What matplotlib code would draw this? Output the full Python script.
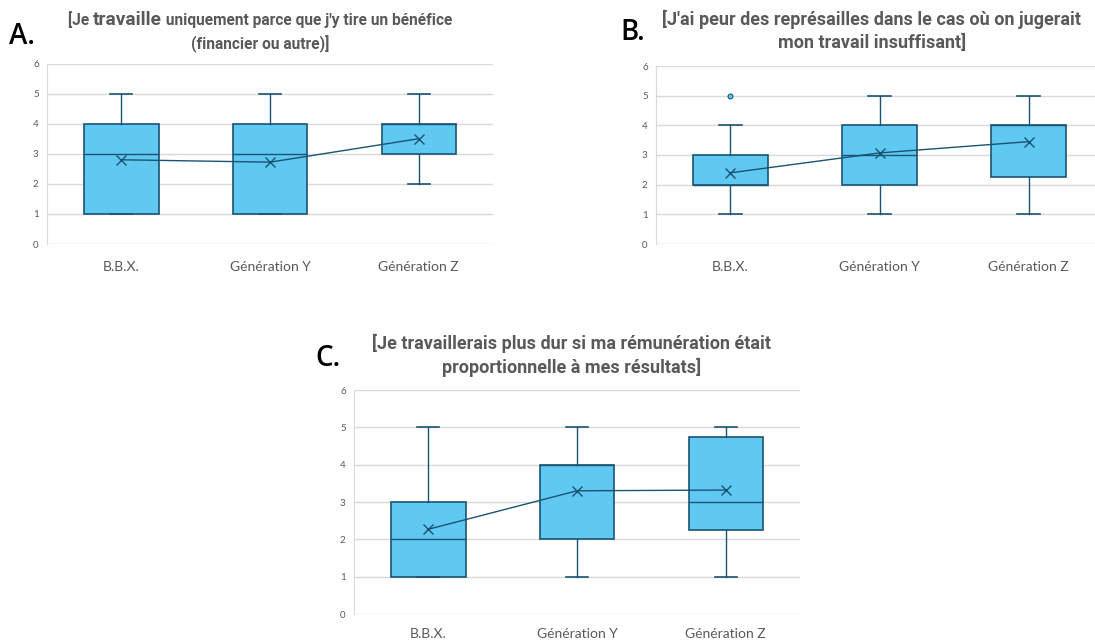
import matplotlib
matplotlib.use("Agg")
import matplotlib.pyplot as plt
from matplotlib.offsetbox import TextArea, HPacker, AnnotationBbox

# Generations on the x axis
groups = ["B.B.X.", "Génération Y", "Génération Z"]

# A. "Je travaille uniquement parce que j'y tire un bénéfice"
a_low = [1, 1, 2]
a_q1 = [1, 1, 3]
a_med = [3, 3, 4]
a_q3 = [4, 4, 4]
a_high = [5, 5, 5]
a_mean = [2.8, 2.72, 3.5]
a_out = [[], [], []]

# B. "J'ai peur des représailles ..."
b_low = [1, 1, 1]
b_q1 = [2, 2, 2.25]
b_med = [2, 3, 4]
b_q3 = [3, 4, 4]
b_high = [4, 5, 5]
b_mean = [2.4, 3.07, 3.45]
b_out = [[5], [], []]

# C. "Je travaillerais plus dur si ma rémunération ..."
c_low = [1, 1, 1]
c_q1 = [1, 2, 2.25]
c_med = [2, 4, 3]
c_q3 = [3, 4, 4.75]
c_high = [5, 5, 5]
c_mean = [2.27, 3.3, 3.32]
c_out = [[], [], []]

fill = "#5FC9F1"
edge = "#1B5373"
grey_txt = "#595959"
grid_col = "#D9D9D9"
title_font = ["Liberation Sans Narrow", "Roboto", "DejaVu Sans"]
tick_font = ["Lato", "DejaVu Sans"]

fig = plt.figure(figsize=(10.95, 6.41), dpi=100)
W, H = 1095, 641


def add_axes_px(left, right, top, bottom):
    return fig.add_axes([left / W, 1 - bottom / H, (right - left) / W, (bottom - top) / H])


def draw_box(ax, low, q1, med, q3, high, mean, out, xmax=3.5, xpad=12):
    stats = []
    for i in range(len(groups)):
        stats.append(dict(whislo=low[i], q1=q1[i], med=med[i], q3=q3[i],
                          whishi=high[i], mean=mean[i], fliers=out[i], label=groups[i]))
    pos = [1, 2, 3]
    ax.bxp(stats, positions=pos, widths=0.5, patch_artist=True, showmeans=False,
           boxprops=dict(facecolor=fill, edgecolor=edge, linewidth=1.2),
           medianprops=dict(color=edge, linewidth=1.0),
           whiskerprops=dict(color=edge, linewidth=1.0),
           capprops=dict(color=edge, linewidth=1.2),
           capwidths=0.15,
           flierprops=dict(marker="o", markersize=3.5, markerfacecolor=fill,
                           markeredgecolor=edge, markeredgewidth=0.8))
    ax.plot(pos, mean, color=edge, linewidth=1.0, marker="x", markersize=7,
            markeredgewidth=1.0, zorder=5)
    ax.set_xlim(0.5, xmax)
    ax.set_ylim(0, 6)
    ax.set_yticks(range(7))
    ax.grid(axis="y", color=grid_col, linewidth=1.0)
    ax.set_axisbelow(True)
    for s in ["top", "right", "bottom"]:
        ax.spines[s].set_visible(False)
    ax.spines["left"].set_color(grid_col)
    ax.tick_params(axis="both", length=0)
    ax.tick_params(axis="y", labelsize=7, labelcolor=grey_txt, pad=6)
    ax.tick_params(axis="x", labelsize=10, labelcolor=grey_txt, pad=xpad)
    for t in ax.get_xticklabels() + ax.get_yticklabels():
        t.set_family(tick_font)


ax_a = add_axes_px(47, 493, 63.5, 244)
draw_box(ax_a, a_low, a_q1, a_med, a_q3, a_high, a_mean, a_out)

ax_b = add_axes_px(656, 1095, 66, 244)
draw_box(ax_b, b_low, b_q1, b_med, b_q3, b_high, b_mean, b_out,
         xmax=0.5 + (1095 - 656) / 149)

ax_c = add_axes_px(354, 800, 390, 614)
draw_box(ax_c, c_low, c_q1, c_med, c_q3, c_high, c_mean, c_out, xpad=10)


def title_line(pieces, x, y):
    parts = [TextArea(txt, textprops=dict(fontsize=sz, fontweight="bold",
                                          color=grey_txt, family=title_font))
             for txt, sz in pieces]
    box = HPacker(children=parts, align="baseline", pad=0, sep=0)
    ab = AnnotationBbox(box, (x / W, 1 - y / H), xycoords="figure fraction",
                        frameon=False, box_alignment=(0.5, 0.5))
    fig.add_artist(ab)


# panel titles
title_line([("[Je ", 11.2), ("travaille", 13.8), (" uniquement parce que j'y tire un bénéfice", 11.2)], 260, 20)
title_line([("(financier ou autre)]", 11.2)], 260, 44)
title_line([("[J'ai peur des représailles dans le cas où on jugerait", 13)], 872, 19)
title_line([("mon travail insuffisant]", 13)], 872, 43)
title_line([("[Je travaillerais plus dur si ma rémunération était", 13)], 572, 343)
title_line([("proportionnelle à mes résultats]", 13)], 572, 367)

# panel letters
for letter, x, y in [("A.", 9, 37), ("B.", 620, 33), ("C.", 315, 358)]:
    fig.text(x / W, 1 - y / H, letter, fontsize=20, color="black", va="center",
             ha="left", family=["Open Sans", "DejaVu Sans"], fontweight="semibold")

fig.savefig("out.png", dpi=100)
